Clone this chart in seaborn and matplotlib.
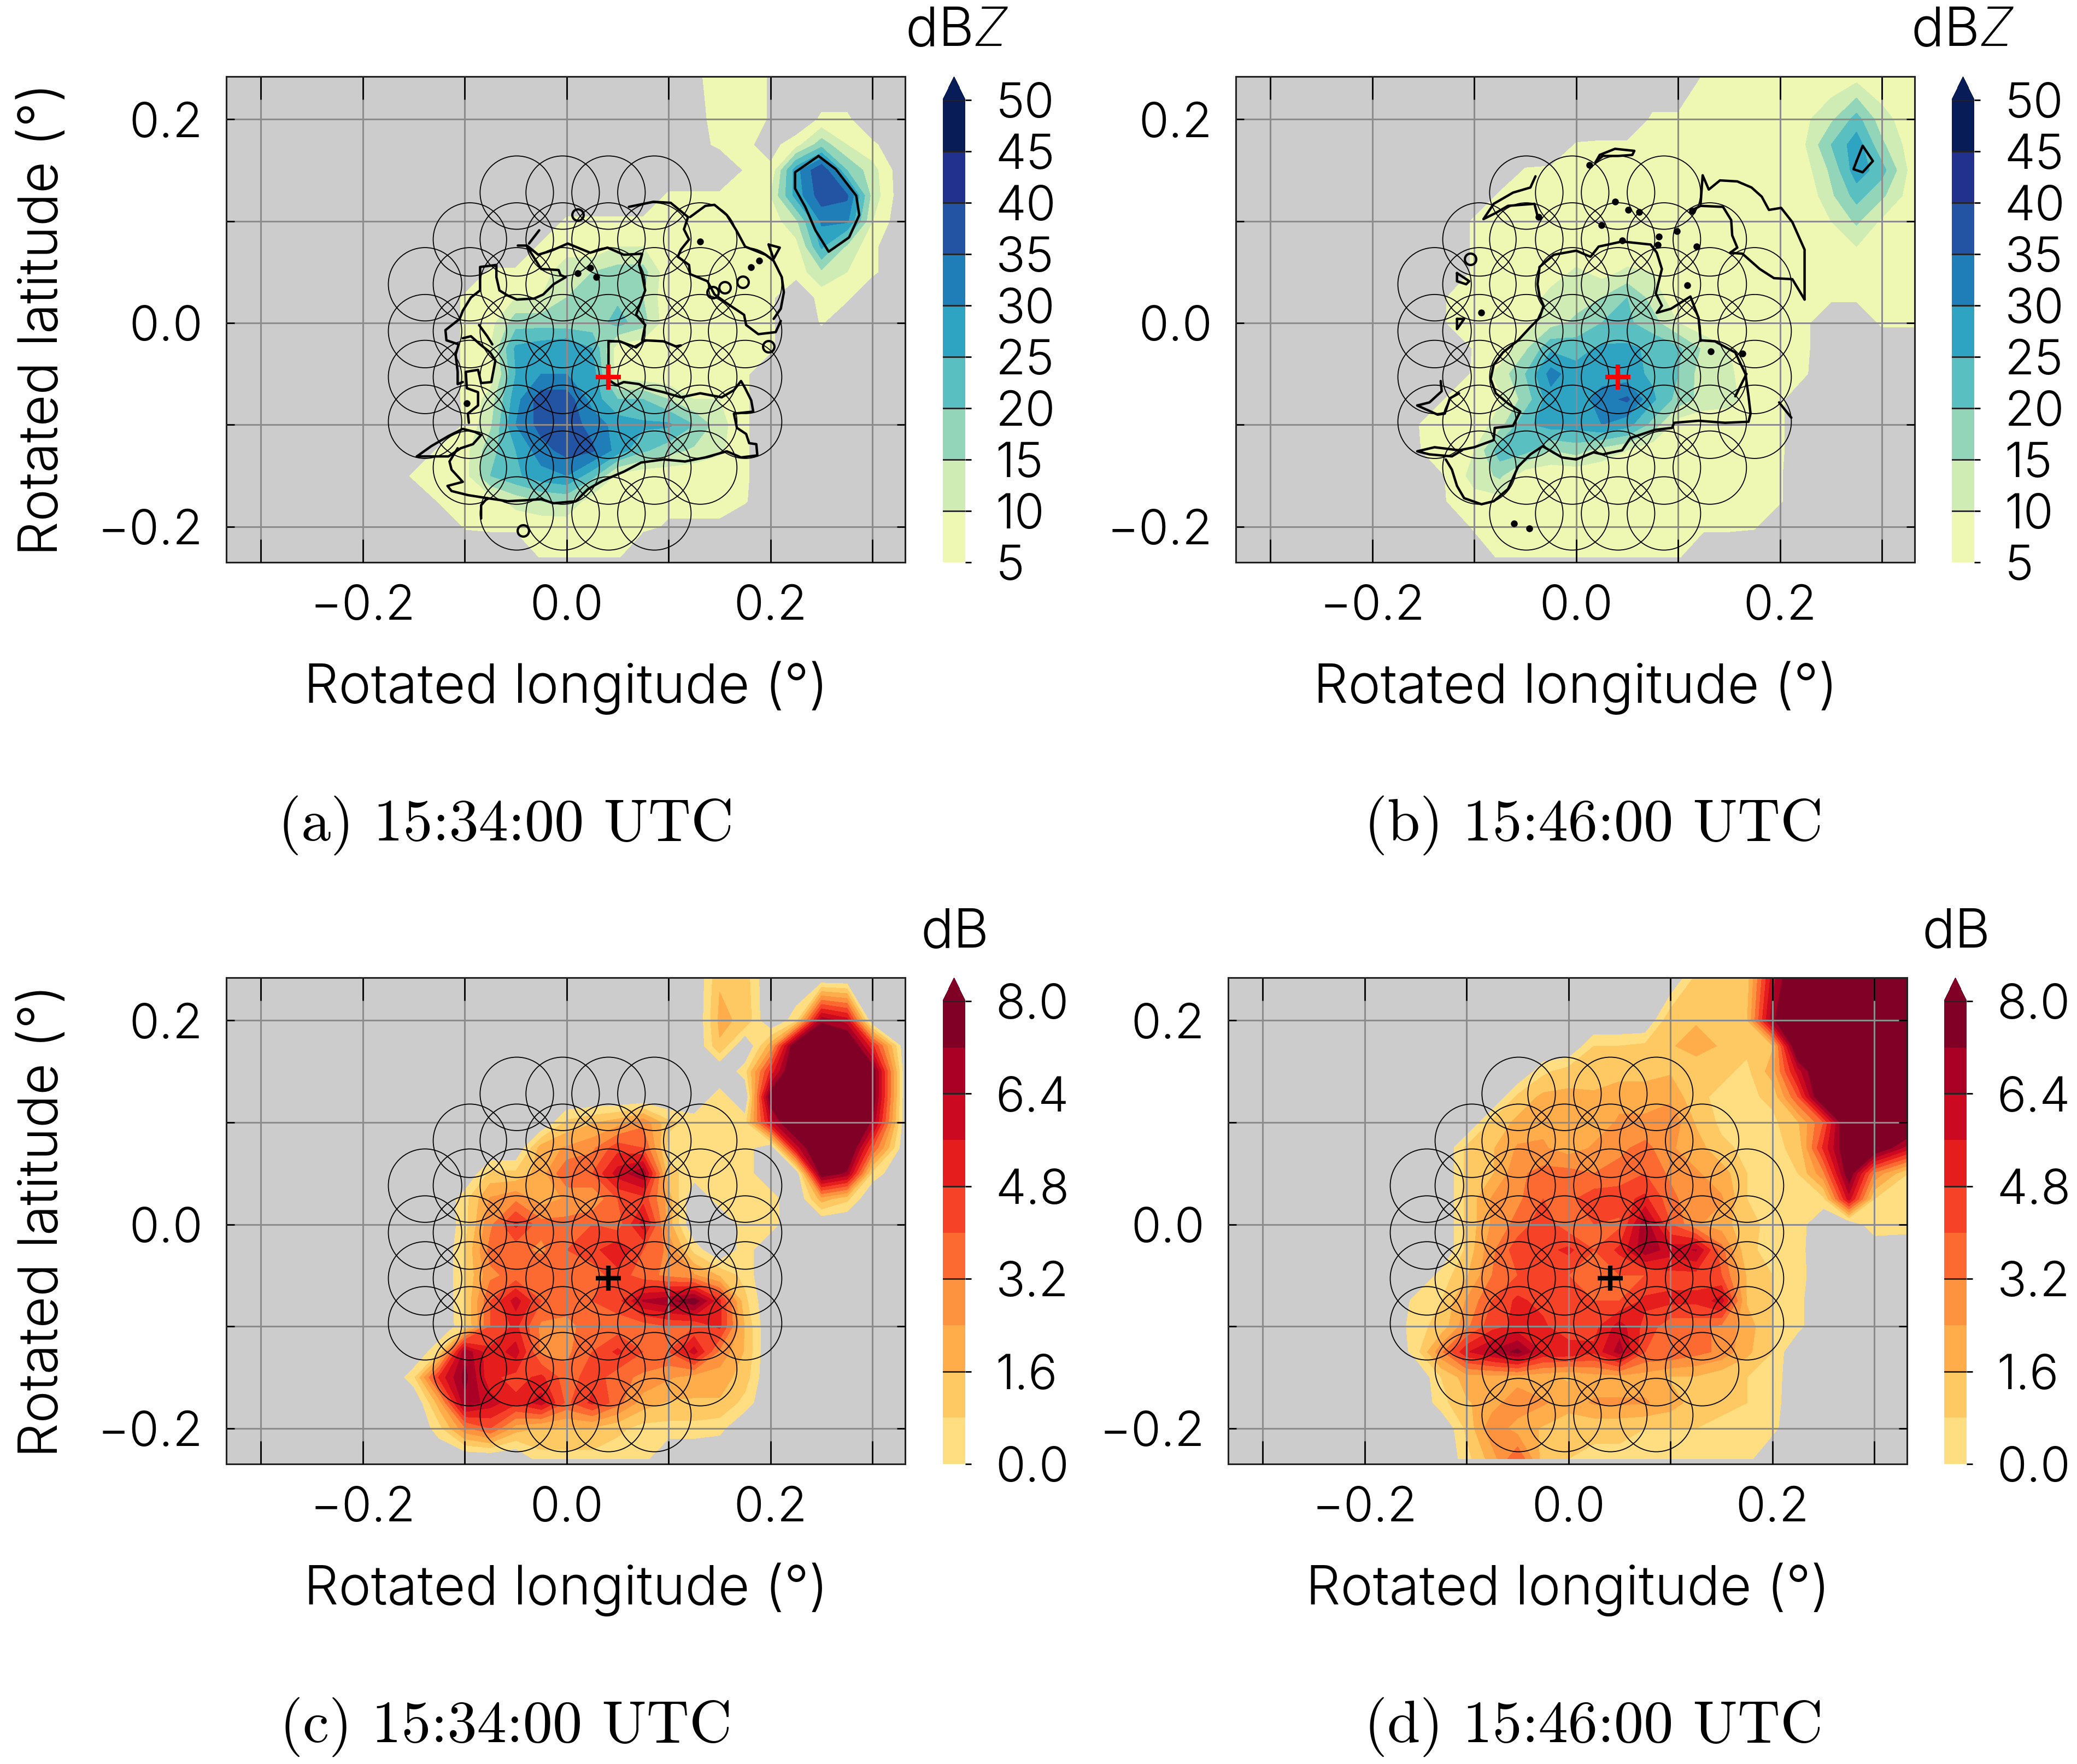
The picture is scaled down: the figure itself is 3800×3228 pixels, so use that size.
import numpy as np
import matplotlib
matplotlib.use("Agg")
import matplotlib.pyplot as plt
from matplotlib.patches import Circle
import seaborn as sns

# grid the fields were read on (degrees)
lons = [-0.175, -0.15, -0.125, -0.1, -0.075, -0.05, -0.025, 0.0, 0.025, 0.05, 0.075,
        0.1, 0.125, 0.15, 0.175, 0.2, 0.225, 0.25, 0.275, 0.3, 0.333]
lats = [0.242, 0.2, 0.175, 0.15, 0.125, 0.1, 0.075, 0.05, 0.025, 0.0, -0.025, -0.05,
        -0.075, -0.1, -0.125, -0.15, -0.175, -0.2, -0.23]

# reflectivity, dBZ, 15:34 (below 5 = no echo)
field_a = [
    [0,0,0,0,0,0,0,0,0,0,0,0,4.5,6,6,4.8,0,0,0,0,0],
    [0,0,0,0,0,0,0,0,0,0,0,0,4,6,6,4.8,0,6,6,0,0],
    [0,0,0,0,0,0,0,0,0,0,0,0,3,6,6,3,8,18,10,6,0],
    [0,0,0,0,0,0,0,0,0,0,0,0,0,0,5.5,6,28,40,20,12,0],
    [0,0,0,0,0,0,0,0,0,0,0,6,6,6,6,10,27,38,36,13,0],
    [0,0,0,0,0,0,0,6,6,6,6,6,6,6,6,7,14,31,31,10,0],
    [0,0,0,0,0,0,6,6,6,10,10,6,6,6,6,6,8,26,14,6,0],
    [0,0,0,0,6,6,6,15,15,17,17,6,6,6,6,6,7,14,10,6,0],
    [0,0,0,6,7,10,10,15,16,19,15,6,6,6,6,6,0,7,6,0,0],
    [0,0,0,6,8,18,18,17,17,22,17,6,6,6,6,6,0,5.5,0,0,0],
    [0,0,0,6,10,26,28,30,25,7,6,6,6,6,6,6,0,0,0,0,0],
    [0,0,0,6,7,25,30,30,28,7,6,6,6,6,6,0,0,0,0,0,0],
    [0,0,0,6,12,28,38,38,28,20,20,15,10,10,6,0,0,0,0,0,0],
    [0,0,0,5.5,14,30,37,38,33,28,26,26,20,12,6,0,0,0,0,0,0],
    [0,0,6,8,18,25,33,37,36,28,21,17,14,11,6,0,0,0,0,0,0],
    [0,6,6,8,20,24,28,30,22,8,6,6,6,6,6,0,0,0,0,0,0],
    [0,0,5.5,6,7,12,15,16,6,6,6,6,6,6,5.5,0,0,0,0,0,0],
    [0,0,0,5.5,6,6,6,6,6,6,6,4.5,4.5,4.5,0,0,0,0,0,0,0],
    [0,0,0,0,0,0,5.5,5.5,5.5,5.5,0,0,0,0,0,0,0,0,0,0,0],
]

# reflectivity, dBZ, 15:46
field_b = [
    [0,0,0,0,0,0,0,0,0,0,0,0,5.5,6,6,6,6,6,8,6,6],
    [0,0,0,0,0,0,0,0,0,0,6,6,6,6,6,6,9,14,22,12,6],
    [0,0,0,0,0,0,0,5.5,6,6,6,6,6,6,6,6,10,20,28,16,6],
    [0,0,0,0,0,5.5,6,6,6,6,6,6,6,6,6,6,8,16,28,22,6],
    [0,0,0,0,6,6,6,6,6,6,6,6,6,6,6,6,6,14,22,16,6],
    [0,0,0,6,6,6,6,6,6,6,6,6,6,6,6,6,6,10,16,9,6],
    [0,0,0,6,6,6,6,6,6,6,6,6,6,6,6,6,6,6,10,6,6],
    [0,0,0,6,6,6,7,11,8,11,10,6,6,6,6,6,6,6,6,6,6],
    [0,0,5.5,6,6,6,12,13,15,20,13,6,6,6,6,6,6,6,6,6,6],
    [0,0,5.5,6,6,7,13,16,20,21,17,10,6,6,6,6,6,0,0,6,6],
    [0,0,0,5.5,6,14,24,23,26,26,24,21,14,10,6,6,6,0,0,0,0],
    [0,0,0,6,12,20,32,27,27,27,24,20,12,11,6,6,5.5,0,0,0,0],
    [0,0,6,6,9,17,28,26,33,36,26,18,13,12,6,6,0,0,0,0,0],
    [0,6,6,6,13,24,27,27,30,27,18,7,6,6,6,6,0,0,0,0,0],
    [0,5.5,6,10,23,22,15,17,13,10,6,6,6,6,6,6,0,0,0,0,0],
    [0,0,6,12,16,6,6,6,6,6,6,6,6,6,6,5.5,0,0,0,0,0],
    [0,0,5.5,8,8,6,6,6,6,6,6,6,6,6,6,5.5,0,0,0,0,0],
    [0,0,0,6,6,6,6,6,6,6,6,6,6,6,5.5,0,0,0,0,0,0],
    [0,0,0,0,6,6,6,6,6,6,6,5.5,0,0,0,0,0,0,0,0,0],
]

# spread, dB, 15:34 (-1 = no data)
field_c = [
    [-1,-1,-1,-1,-1,-1,-1,-1,-1,-1,-1,-1,-1,1.5,1.2,-1,-1,-1,-1,-1,-1],
    [-1,-1,-1,-1,-1,-1,-1,-1,-1,-1,-1,-1,-1,1.8,1.4,-1,0.5,7,6,-1,-1],
    [-1,-1,-1,-1,-1,-1,-1,-1,-1,-1,-1,-1,-1,1.5,-1,2,8.5,9,9,5,-1],
    [-1,-1,-1,-1,-1,-1,-1,-1,-1,-1,-1,-1,-1,-1,0.5,5,9,9,9,8,-1],
    [-1,-1,-1,-1,-1,-1,-1,-1,-1,-1,-1,-1,-1,0.5,-1,8,9,9,9,8,-1],
    [-1,-1,-1,-1,-1,-1,-1,1,1.5,2,3,1,0.5,0.5,0.5,6,9,9,9,7,-1],
    [-1,-1,-1,-1,-1,-1,2,2.5,3,4.5,4,0.5,0.5,0.5,0.5,-1,6,9,9,4,-1],
    [-1,-1,-1,-1,1,1,2,4,4,6,7,1,0.5,0.5,0.5,-1,-1,8,7,0.5,-1],
    [-1,-1,-1,0.5,2.5,3,2,2.5,2.5,4,4.5,2,-1,0.5,0.5,0.5,-1,2,1,-1,-1],
    [-1,-1,-1,0.5,3,5,3.5,3.5,4,3.5,6,2,-1,-1,0.5,0.5,-1,-1,-1,-1,-1],
    [-1,-1,-1,0.8,3.5,3.5,3,4,4.5,5.5,4,3,0.5,-1,0.5,-1,-1,-1,-1,-1,-1],
    [-1,-1,-1,0.8,3,3.5,4,4,3.5,4.5,3.5,3,2.5,1.5,0.5,-1,-1,-1,-1,-1,-1],
    [-1,-1,-1,0.8,4,6,4,3.5,4,4.5,6.5,7,7.8,5,1,-1,-1,-1,-1,-1,-1],
    [-1,-1,-1,0.7,4,5,3,3,3.5,3.5,3.5,4,4,5,1.5,-1,-1,-1,-1,-1,-1],
    [-1,-1,0.8,7,5,6,3,3,4,5,4,4,6,3,1.5,-1,-1,-1,-1,-1,-1],
    [-1,0.6,5,7.5,5,4.5,5,3.5,4.5,3.5,3,2.5,2,2,1.2,-1,-1,-1,-1,-1,-1],
    [-1,-1,2,7,6,5,6,3.8,5,3.5,2,1.5,1.5,1.5,0.5,-1,-1,-1,-1,-1,-1],
    [-1,-1,0.5,3,4,2,1.5,1.5,1.5,1,0.5,0.5,0.5,0.3,-1,-1,-1,-1,-1,-1,-1],
    [-1,-1,-1,-1,-1,-1,0.5,0.5,0.5,0.3,0.3,-1,-1,-1,-1,-1,-1,-1,-1,-1,-1],
]

# spread, dB, 15:46
field_d = [
    [-1,-1,-1,-1,-1,-1,-1,-1,-1,-1,-1,-1,1,1,1.2,6,9,9,9,9,8],
    [-1,-1,-1,-1,-1,-1,-1,-1,-1,-1,-1,1.5,1.5,1.2,1.5,7,9,9,9,9,9],
    [-1,-1,-1,-1,-1,-1,-1,-1,0.8,0.8,1,1.5,2,1.5,1,1.5,9,9,9,9,9],
    [-1,-1,-1,-1,-1,-1,0.6,1.2,1,1.2,1.2,1.5,1,1,0.6,2,6,9,9,9,9],
    [-1,-1,-1,-1,-1,1,1.8,1.8,1.8,2.2,2.2,2.2,1,0.6,0.6,1,4,9,9,9,9],
    [-1,-1,-1,-1,1,1.8,2.2,2,2,2.5,2.5,3,1.5,0.6,0.6,0.6,1.5,4,9,9,9],
    [-1,-1,-1,1,1.5,2.5,2.5,2,2.5,3,3.5,2.5,2,1,0.6,0.6,1,5,8.5,8.5,6],
    [-1,-1,-1,1,1.5,3,3.5,3.5,3.2,3.5,4,3,2.5,2,0.8,0.6,0.8,3,8,3,0.8],
    [-1,-1,-1,1,2.5,3,4,3.8,4.5,4.5,5,3.5,2.5,2.5,0.8,0.5,0.3,0.6,6,0.8,0.3],
    [-1,-1,-1,1,2.5,3.5,4.5,3.5,4,3.8,7,4,2.5,2,1,0.6,0.5,-1,-1,0.8,0.6],
    [-1,-1,-1,1,3,4.5,4.5,5,4,5,7,6,6.5,3.5,1,0.5,0.4,-1,-1,-1,-1],
    [-1,-1,0.3,1.5,3.2,4,4.5,4,3.8,4,4,4.5,4.5,4,1.5,0.8,0.5,-1,-1,-1,-1],
    [-1,0.3,0.8,2.5,4,5,4.5,4.5,4,4,5,5,5,6,1.5,0.8,0.3,-1,-1,-1,-1],
    [-1,0.6,1,3,4.5,5,5,4,4.5,6,4.5,3.5,3.5,3,2,0.8,0.3,-1,-1,-1,-1],
    [-1,0.4,3,5.5,6.5,7.5,5.5,5.5,5,6.8,4,4,3.5,3,1.8,0.8,-1,-1,-1,-1,-1],
    [-1,-1,0.8,2,2,2,1.8,1.5,2,2,2,1.5,1.5,1,0.8,0.6,-1,-1,-1,-1,-1],
    [-1,-1,0.5,1.5,2,3,2.5,2,2.5,2.5,2.5,2,1.2,1,0.8,0.5,-1,-1,-1,-1,-1],
    [-1,-1,-1,1,3,2,1.5,1,1,1,0.8,0.8,0.8,0.6,0.5,0.3,-1,-1,-1,-1,-1],
    [-1,-1,-1,0.5,2,4,1.2,0.8,0.6,0.6,0.4,0.3,0.3,0.3,0.3,-1,-1,-1,-1,-1,-1],
]

# observed echo outlines, lon/lat pairs
outlines_a = [
    # lower left tip
    [(-.147,-.131),(-.133,-.121),(-.116,-.111),(-.102,-.104),(-.090,-.107),(-.084,-.110),(-.092,-.119),
     (-.104,-.123),(-.116,-.131),(-.132,-.131),(-.147,-.131)],
    # southern edge, then back along the north side
    [(-.107,-.123),(-.115,-.136),(-.113,-.144),(-.102,-.156),(-.117,-.160),(-.113,-.165),(-.097,-.169),
     (-.078,-.172),(-.058,-.175),(-.039,-.174),(-.025,-.173),(-.013,-.177),(.009,-.175),(.021,-.163),
     (.035,-.155),(.056,-.146),(.073,-.137),(.095,-.134),(.116,-.136),(.136,-.132),(.157,-.126),(.171,-.132),
     (.187,-.130),(.186,-.119),(.179,-.118),(.176,-.109),(.167,-.103),(.164,-.089),(.183,-.087),(.181,-.076),
     (.175,-.064),(.171,-.057),(.164,-.066),(.152,-.073),(.131,-.069),(.112,-.073),(.095,-.068),(.078,-.064),
     (.071,-.060),(.056,-.058),(.049,-.061),(.041,-.056),(.041,-.018),(.052,-.018),(.068,-.024),(.076,-.017),
     (.095,-.018),(.107,-.023),(.112,-.022)],
    [(-.078,-.172),(-.084,-.179),(-.084,-.192)],
    # central part
    [(.074,-.017),(.077,-.002),(.068,.008),(.077,.032),(.074,.047),(.071,.057),(.074,.068),(.056,.067),(.040,.074),
     (.023,.069),(.001,.078),(-.015,.071),(-.028,.067),(-.039,.076),(-.048,.076)],
    [(-.039,.075),(-.025,.053),(-.008,.052),(-.006,.047),(-.001,.045),(-.013,.038),(-.023,.028),(-.032,.024),
     (-.049,.023),(-.058,.027),(-.066,.032),(-.069,.045),(-.069,.057),(-.085,.055),(-.085,.043),(-.085,.032),
     (-.094,.025),(-.102,.012),(-.105,.004),(-.119,-.007),(-.118,-.017),(-.106,-.021),(-.109,-.031),(-.107,-.048),
     (-.107,-.060),(-.102,-.058)],
    [(-.102,-.015),(-.094,-.013),(-.085,-.021),(-.075,-.029),(-.070,-.037),(-.074,-.058),(-.084,-.059),(-.087,-.046),
     (-.099,-.048),(-.098,-.064),(-.087,-.068),(-.087,-.081),(-.097,-.089),(-.096,-.098)],
    [(-.086,-.002),(-.078,-.013),(-.073,-.021)],
    [(-.027,.091),(-.037,.078)],
    # north east of the radar
    [(.061,.114),(.085,.119),(.102,.118),(.119,.104),(.115,.092),(.120,.082),(.112,.072),(.109,.065),(.120,.057),
     (.121,.048),(.138,.041),(.145,.028),(.159,.018),(.174,.008),(.176,-.002),(.188,-.011),(.205,-.009),(.210,.002)],
    [(.121,.104),(.136,.115),(.145,.116),(.157,.106),(.167,.090),(.175,.075),(.195,.067),(.203,.061),(.211,.045),
     (.213,.030),(.210,.014),(.203,.004)],
    [(.198,.077),(.209,.074),(.203,.063),(.198,.077)],
    # isolated cell
    [(.247,.164),(.224,.148),(.224,.132),(.234,.114),(.244,.091),(.257,.070),(.277,.084),(.287,.106),
     (.284,.125),(.264,.151),(.247,.164)],
]
specks_a_lon = [.131, .189, .181, .029, .023, .011, -.098]
specks_a_lat = [.080, .061, .055, .045, .054, .049, -.079]
rings_a_lon = [.011, .173, .155, .143, .198, -.043]
rings_a_lat = [.106, .040, .035, .030, -.023, -.204]

outlines_b = [
    [(.019,.158),(.023,.165),(.038,.171),(.057,.169),(.055,.165),(.041,.164),(.026,.164),(.019,.158)],
    [(-.091,.102),(-.081,.117),(-.062,.128),(-.045,.133),(-.040,.144)],
    [(-.091,.102),(-.079,.108),(-.067,.115),(-.041,.117),(-.038,.105)],
    [(.122,.117),(.124,.145),(.130,.131),(.141,.140),(.158,.139),(.172,.133),(.182,.124),(.189,.111),(.201,.113),
     (.212,.099),(.224,.072),(.224,.023)],
    [(.112,.110),(.122,.115),(.144,.114),(.152,.101),(.153,.086),(.158,.074),(.151,.069),(.163,.068),(.180,.053),
     (.194,.044),(.212,.043),(.224,.023)],
    [(-.036,.055),(-.022,.067),(0,.071),(.014,.065),(.022,.075),(.045,.080),(.073,.077),(.079,.069),(.084,.053),
     (.078,.029),(.084,.017),(.079,.010),(.093,.014),(.112,.026),(.120,.005),(.122,-.017),(.136,-.018),(.156,-.029),
     (.166,-.050),(.169,-.072),(.171,-.089),(.169,-.097),(.146,-.098),(.120,-.096),(.096,-.098),(.094,-.103),
     (.077,-.105),(.053,-.113),(.045,-.125),(.026,-.129),(.017,-.127),(0,-.134),(-.014,-.132),(-.033,-.121),
     (-.045,-.129),(-.057,-.141),(-.067,-.163),(-.081,-.175),(-.093,-.178),(-.110,-.172),(-.117,-.160),(-.122,-.144),
     (-.128,-.134)],
    [(-.036,.055),(-.038,.038),(-.036,.026),(-.032,.017),(-.036,.005),(-.045,-.004),(-.057,-.017),(-.072,-.029),
     (-.081,-.041),(-.084,-.055),(-.079,-.069),(-.067,-.079),(-.055,-.087),(-.062,-.101),(-.080,-.103),(-.081,-.115),
     (-.100,-.122),(-.115,-.125),(-.139,-.122),(-.156,-.126),(-.144,-.129),(-.122,-.131),(-.112,-.125)],
    [(-.156,-.081),(-.144,-.078),(-.132,-.067),(-.133,-.057)],
    [(-.156,-.081),(-.136,-.090),(-.129,-.089),(-.124,-.074),(-.115,-.069)],
    [(-.117,.049),(-.105,.041),(-.108,.038),(-.117,.041),(-.117,.049)],
    [(-.117,.004),(-.110,.004),(-.117,-.006),(-.117,.004)],
    [(.156,-.072),(.167,-.050)],
    [(.199,-.078),(.211,-.093)],
    [(.275,.159),(.281,.174),(.291,.159),(.281,.148),(.272,.151),(.275,.159)],
]
specks_b_lon = [-.093, .132, .163, .038, .051, .062, .025, -.037, .081, .080, .045, .114, .099, .118, .109,
                -.061, -.046, .013]
specks_b_lat = [.010, -.028, -.030, .119, .111, .109, .096, .104, .085, .077, .081, .110, .090, .075, .037,
                -.197, -.202, .155]
rings_b_lon = [-.104]
rings_b_lat = [.063]

# scan circles
circle_lons = [-0.139, -0.095, -0.049, -0.004, 0.041, 0.086, 0.131, 0.175]
circle_rows = [
    (0.128, [2, 3, 4, 5]),
    (0.082, [1, 2, 3, 4, 5, 6]),
    (0.038, [0, 1, 2, 3, 4, 5, 6, 7]),
    (-0.008, [0, 1, 2, 3, 4, 5, 6, 7]),
    (-0.053, [0, 1, 2, 3, 4, 5, 6, 7]),
    (-0.097, [0, 1, 2, 3, 4, 5, 6, 7]),
    (-0.142, [1, 2, 3, 4, 5, 6]),
    (-0.187, [2, 3, 4, 5]),
]
circle_radius = 0.036
radar_lon, radar_lat = 0.041, -0.053

dbz_levels = [5, 10, 15, 20, 25, 30, 35, 40, 45, 50]
dbz_ticks = [5, 10, 15, 20, 25, 30, 35, 40, 45, 50]
db_levels = [0.0, 0.8, 1.6, 2.4, 3.2, 4.0, 4.8, 5.6, 6.4, 7.2, 8.0]
db_ticks = [0.0, 1.6, 3.2, 4.8, 6.4, 8.0]

captions = ["(a) 15:34:00 UTC", "(b) 15:46:00 UTC", "(c) 15:34:00 UTC", "(d) 15:46:00 UTC"]

W, H = 3800, 3228
FONT = "Inter"
TICK_SIZE = 64
LABEL_SIZE = 72

sns.set_style("ticks")
plt.rcParams["font.family"] = [FONT, "DejaVu Sans"]
plt.rcParams["font.weight"] = 300
plt.rcParams["axes.labelweight"] = 300
plt.rcParams["text.color"] = "black"
plt.rcParams["axes.labelcolor"] = "black"
plt.rcParams["xtick.color"] = "black"
plt.rcParams["ytick.color"] = "black"
plt.rcParams["mathtext.fontset"] = "custom"
plt.rcParams["mathtext.it"] = FONT + ":italic:light"
plt.rcParams["mathtext.rm"] = FONT + ":light"

cmap_dbz = sns.color_palette("YlGnBu", as_cmap=True)
cmap_db = sns.color_palette("YlOrRd", as_cmap=True)
colors_dbz = [cmap_dbz(p) for p in np.linspace(0.12, 1, 9)]
colors_db = [cmap_db(p) for p in np.linspace(0.22, 1, 10)]


def px_axes(fig, left, top, right, bottom):
    return fig.add_axes([left / W, 1 - bottom / H, (right - left) / W, (bottom - top) / H])


def draw_panel(fig, box, cbox, field, levels, colors, ticks, fmt, unit, unit_x, unit_y, cross, caption, cap_x, cap_y,
               outlines=None, specks=None, rings=None, ylabel=False):
    ax = px_axes(fig, *box)
    ax.set_facecolor("#cccccc")
    z = np.array(field, dtype=float)[::-1]
    cs = ax.contourf(lons, lats[::-1], z, levels=levels, colors=colors + [colors[-1]], extend="max", zorder=1)

    ax.set_xlim(-0.334, 0.332)
    ax.set_ylim(-0.235, 0.242)
    ax.set_xticks([-0.3, -0.2, -0.1, 0.0, 0.1, 0.2, 0.3])
    ax.set_xticklabels(["", "\u22120.2", "", "0.0", "", "0.2", ""])
    ax.set_yticks([-0.2, -0.1, 0.0, 0.1, 0.2])
    ax.set_yticklabels(["\u22120.2", "", "0.0", "", "0.2"])
    ax.grid(True, color="#8c8c8c", lw=2.2, zorder=2)
    ax.set_axisbelow(False)
    ax.tick_params(axis="x", direction="in", length=30, width=2, top=True, pad=29, labelsize=TICK_SIZE)
    ax.tick_params(axis="y", direction="in", length=11, width=2, right=True, pad=31, labelsize=TICK_SIZE)
    for s in ax.spines.values():
        s.set_linewidth(2.2)
        s.set_color("#222222")

    # outlines of the observed echo
    if outlines:
        for line in outlines:
            xs = [p[0] for p in line]
            ys = [p[1] for p in line]
            ax.plot(xs, ys, color="black", lw=3.2, zorder=3)
    if specks:
        ax.plot(specks[0], specks[1], "o", color="black", ms=8, zorder=3)
    if rings:
        ax.plot(rings[0], rings[1], "o", mfc="none", mec="black", mew=3, ms=15, zorder=3)

    for lat, idx in circle_rows:
        for i in idx:
            ax.add_patch(Circle((circle_lons[i], lat), circle_radius, fill=False, ec="black", lw=1.3, zorder=4))

    ax.plot([radar_lon], [radar_lat], "+", color=cross, ms=33, mew=6, zorder=5)

    ax.set_xlabel("Rotated longitude (\u00b0)", fontsize=LABEL_SIZE)
    ax.xaxis.set_label_coords(0.5, -0.203)
    if ylabel:
        ax.set_ylabel("Rotated latitude (\u00b0)", fontsize=LABEL_SIZE)
        ax.yaxis.set_label_coords(-0.233, 0.5)

    # colour bar
    cax = px_axes(fig, *cbox)
    cb = fig.colorbar(cs, cax=cax, extend="max", extendfrac=0.0508)
    cb.outline.set_linewidth(0)
    cb.set_ticks(ticks)
    cb.set_ticklabels([fmt % t for t in ticks])
    cax.tick_params(axis="y", direction="out", length=8, width=2, pad=32, labelsize=TICK_SIZE)
    for t in ticks[1:]:
        cax.axhline(t, color="#222222", lw=2)

    fig.text(unit_x / W, 1 - unit_y / H, unit, ha="center", va="center", fontsize=LABEL_SIZE)
    fig.text(cap_x / W, 1 - cap_y / H, caption, ha="center", va="center", fontsize=78, family="cmr10", weight="normal")
    return ax


fig = plt.figure(figsize=(W / 100, H / 100), dpi=100, facecolor="white")

draw_panel(fig, (414, 140, 1656, 1029), (1725, 140, 1766, 1029), field_a, dbz_levels, colors_dbz, dbz_ticks, "%d",
           "dB$\\mathit{Z}$", 1750, 58, "red", captions[0], 926, 1510, outlines_a, (specks_a_lon, specks_a_lat),
           (rings_a_lon, rings_a_lat), True)
draw_panel(fig, (2261, 140, 3503, 1029), (3571, 140, 3612, 1029), field_b, dbz_levels, colors_dbz, dbz_ticks, "%d",
           "dB$\\mathit{Z}$", 3590, 58, "red", captions[1], 2916, 1510, outlines_b, (specks_b_lon, specks_b_lat),
           (rings_b_lon, rings_b_lat))
draw_panel(fig, (414, 1789, 1656, 2679), (1725, 1789, 1766, 2679), field_c, db_levels, colors_db, db_ticks, "%.1f",
           "dB", 1747, 1708, "black", captions[2], 926, 3160, ylabel=True)
draw_panel(fig, (2247, 1789, 3489, 2679), (3557, 1789, 3598, 2679), field_d, db_levels, colors_db, db_ticks, "%.1f",
           "dB", 3579, 1708, "black", captions[3], 2916, 3160)

fig.savefig("out.png", dpi=100)
